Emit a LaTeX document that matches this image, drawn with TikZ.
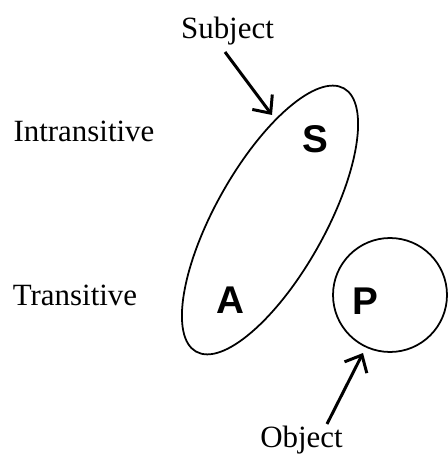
\documentclass[tikz,border=0pt]{standalone}
\usepackage{fontspec}
\setmainfont{Liberation Serif}
\newfontfamily\letterfont{Liberation Sans}
\usetikzlibrary{arrows.meta,shapes.geometric}
\tikzset{
  rolelabel/.style={font=\fontsize{17.6}{20}\selectfont,inner sep=0pt,anchor=base},
  argletter/.style={font=\letterfont\bfseries\fontsize{22}{24}\selectfont,
                    inner sep=0pt,anchor=base},
  groupline/.style={draw=black,line width=1pt,inner sep=0pt},
  pointarr/.style={-{Straight Barb[length=2.8mm,width=5mm]},line width=1.7pt}
}
\begin{document}
\begin{tikzpicture}[x=0.02cm,y=-0.02cm]
    \path[use as bounding box] (0,0) rectangle (448,455);
    % labels
    \node[rolelabel] (subject) at (227.5,39) {Subject};
    \node[rolelabel] (intrans) at (84,142) {Intransitive};
    \node[rolelabel] (trans) at (75,305) {Transitive};
    \node[rolelabel] (object) at (301.5,447) {Object};

    % groupings
    \node[groupline,ellipse,minimum width=6.04cm,minimum height=2.2cm,
          rotate=60.7] (saset) at (270,220) {};
    \node[groupline,circle,minimum size=2.28cm] (pset) at (390,295) {};

    \node[argletter] (argS) at (315,153) {S};
    \node[argletter] (argA) at (230,313) {A};
    \node[argletter] (argP) at (365,314) {P};

    % pointers
    \coordinate (subjtail) at (225,52);
    \coordinate (subjtip) at (272,115);
    \coordinate (objtail) at (327,424);
    \coordinate (objtip) at (363,353);
    \draw[pointarr] (subjtail) -- (subjtip);
    \draw[pointarr] (objtail) -- (objtip);
\end{tikzpicture}
\end{document}
